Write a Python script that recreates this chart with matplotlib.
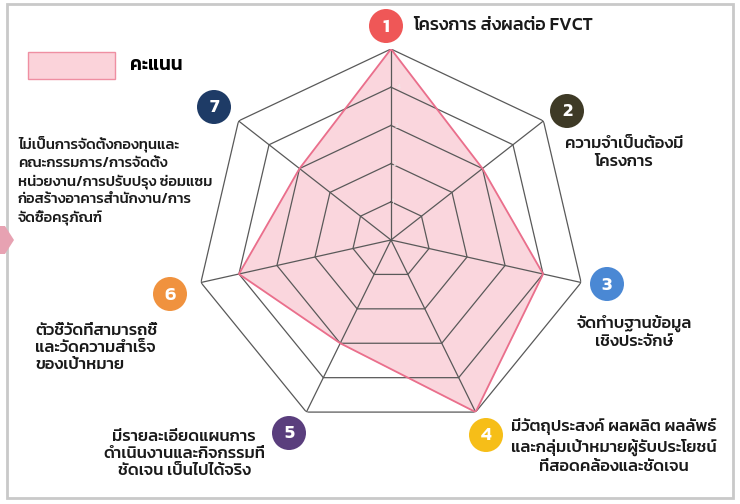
import numpy as np
import matplotlib
matplotlib.use("Agg")
import matplotlib.pyplot as plt
from matplotlib.patches import Circle, Rectangle, Polygon

plt.rcParams['font.family'] = ['Kanit', 'DejaVu Sans']

# ---- data ----
axis_numbers = ['1', '2', '3', '4', '5', '6', '7']
scores = [5, 3, 4, 5, 3, 4, 3]
levels = [1, 2, 3, 4, 5]
series_name = 'คะแนน'
axis_labels = [
    'โครงการ ส่งผลต่อ FVCT',
    'ความจำเป็นต้องมี\nโครงการ',
    'จัดทำบฐานข้อมูล\nเชิงประจักษ์',
    'มีวัตถุประสงค์ ผลผลิต ผลลัพธ์\nและกลุ่มเป้าหมายผู้รับประโยชน์\nที่สอดคล้องและชัดเจน',
    'มีรายละเอียดแผนการ\nดำเนินงานและกิจกรรมที่\nชัดเจน เป็นไปได้จริง',
    'ตัวชี้วัดที่สามารถชี้\nและวัดความสำเร็จ\nของเป้าหมาย',
    'ไม่เป็นการจัดตั้งกองทุนและ\nคณะกรรมการ/การจัดตั้ง\nหน่วยงาน/การปรับปรุง ซ่อมแซม\nก่อสร้างอาคารสำนักงาน/การ\nจัดซื้อครุภัณฑ์',
]
badge_colors = ['#ef5757', '#3e3a26', '#4a88d4', '#f6be18', '#5a3e7d', '#f0923e', '#1e3b66']

W, H = 740, 504
fig = plt.figure(figsize=(W / 100, H / 100), dpi=100)
fig.patch.set_facecolor('white')

def fx(x):
    return x / W

def fy(y):
    return 1 - y / H

# radar axes
cx, cy, rx, ry = 391, 240, 195, 191
ax = fig.add_axes([fx(cx - rx), fy(cy + ry), 2 * rx / W, 2 * ry / H], projection='polar')
ax.set_aspect('auto')
ax.set_theta_offset(np.pi / 2)
ax.set_theta_direction(-1)
n = len(scores)
angles = np.linspace(0, 2 * np.pi, n, endpoint=False)
closed = np.concatenate([angles, angles[:1]])
ax.set_ylim(0, max(levels))
ax.grid(False)
ax.spines['polar'].set_visible(False)
ax.set_xticks([])
ax.set_yticks([])
ax.patch.set_alpha(0)

vals = np.array(scores + scores[:1], dtype=float)
ax.fill(closed, vals, color='#fad4dc', alpha=0.95, zorder=1)
grid_c = '#595959'
for lv in levels:
    ax.plot(closed, [lv] * len(closed), color=grid_c, lw=0.9, zorder=2)
for a in angles:
    ax.plot([a, a], [0, max(levels)], color=grid_c, lw=0.9, zorder=2)
ax.plot(closed, vals, color='#ea6f8c', lw=1.3, zorder=3)
for lv in levels[:-1]:
    ax.text(0.05, lv, str(lv), color='#f3e6e9', fontsize=5, ha='center', va='center', zorder=4)

# border frame
fig.add_artist(Rectangle((fx(7), fy(498)), fx(726), 494 / H, transform=fig.transFigure,
                         fill=False, edgecolor='#c9c9c9', lw=2))
# small pink chevron at left edge
fig.add_artist(Polygon([(fx(0), fy(226)), (fx(5), fy(226)), (fx(14), fy(240)),
                        (fx(5), fy(254)), (fx(0), fy(254))], closed=True,
                       transform=fig.transFigure, facecolor='#e7a2b2', edgecolor='none'))

# legend
fig.add_artist(Rectangle((fx(28), fy(79)), 87 / W, 27 / H, transform=fig.transFigure,
                         facecolor='#fbd3da', edgecolor='#ef8fa2', lw=1))
fig.text(fx(130), fy(65), series_name, fontsize=13.5, fontweight='semibold', va='center', ha='left')

# badges
badge_pos = [(386, 26), (567, 111), (607, 284), (486, 435), (289, 433), (170, 294), (214, 107)]
for (bx, by), col, num in zip(badge_pos, badge_colors, axis_numbers):
    fig.add_artist(Circle((bx / 100, (H - by) / 100), 0.17, transform=fig.dpi_scale_trans,
                          facecolor=col, edgecolor='none'))
    fig.text(fx(bx), fy(by + 1), num, color='white', fontsize=14, fontweight='semibold',
             ha='center', va='center')

# axis labels: (x, y, ha, fontsize, linespacing)
label_pos = [
    (413, 25, 'left', 13, 1.3),
    (624, 153, 'center', 12, 1.3),
    (634, 332, 'center', 12, 1.3),
    (614, 446, 'center', 12, 1.3),
    (184, 454, 'center', 12, 1.3),
    (35, 348, 'left', 12, 1.3),
    (18, 181, 'left', 10.7, 1.42),
]
for (lx, ly, ha, fs, ls), txt in zip(label_pos, axis_labels):
    fig.text(fx(lx), fy(ly), txt, fontsize=fs, ha=ha, va='center', multialignment=ha,
             linespacing=ls, color='#1a1a1a', fontweight='medium')

fig.savefig('out.png', dpi=100)
